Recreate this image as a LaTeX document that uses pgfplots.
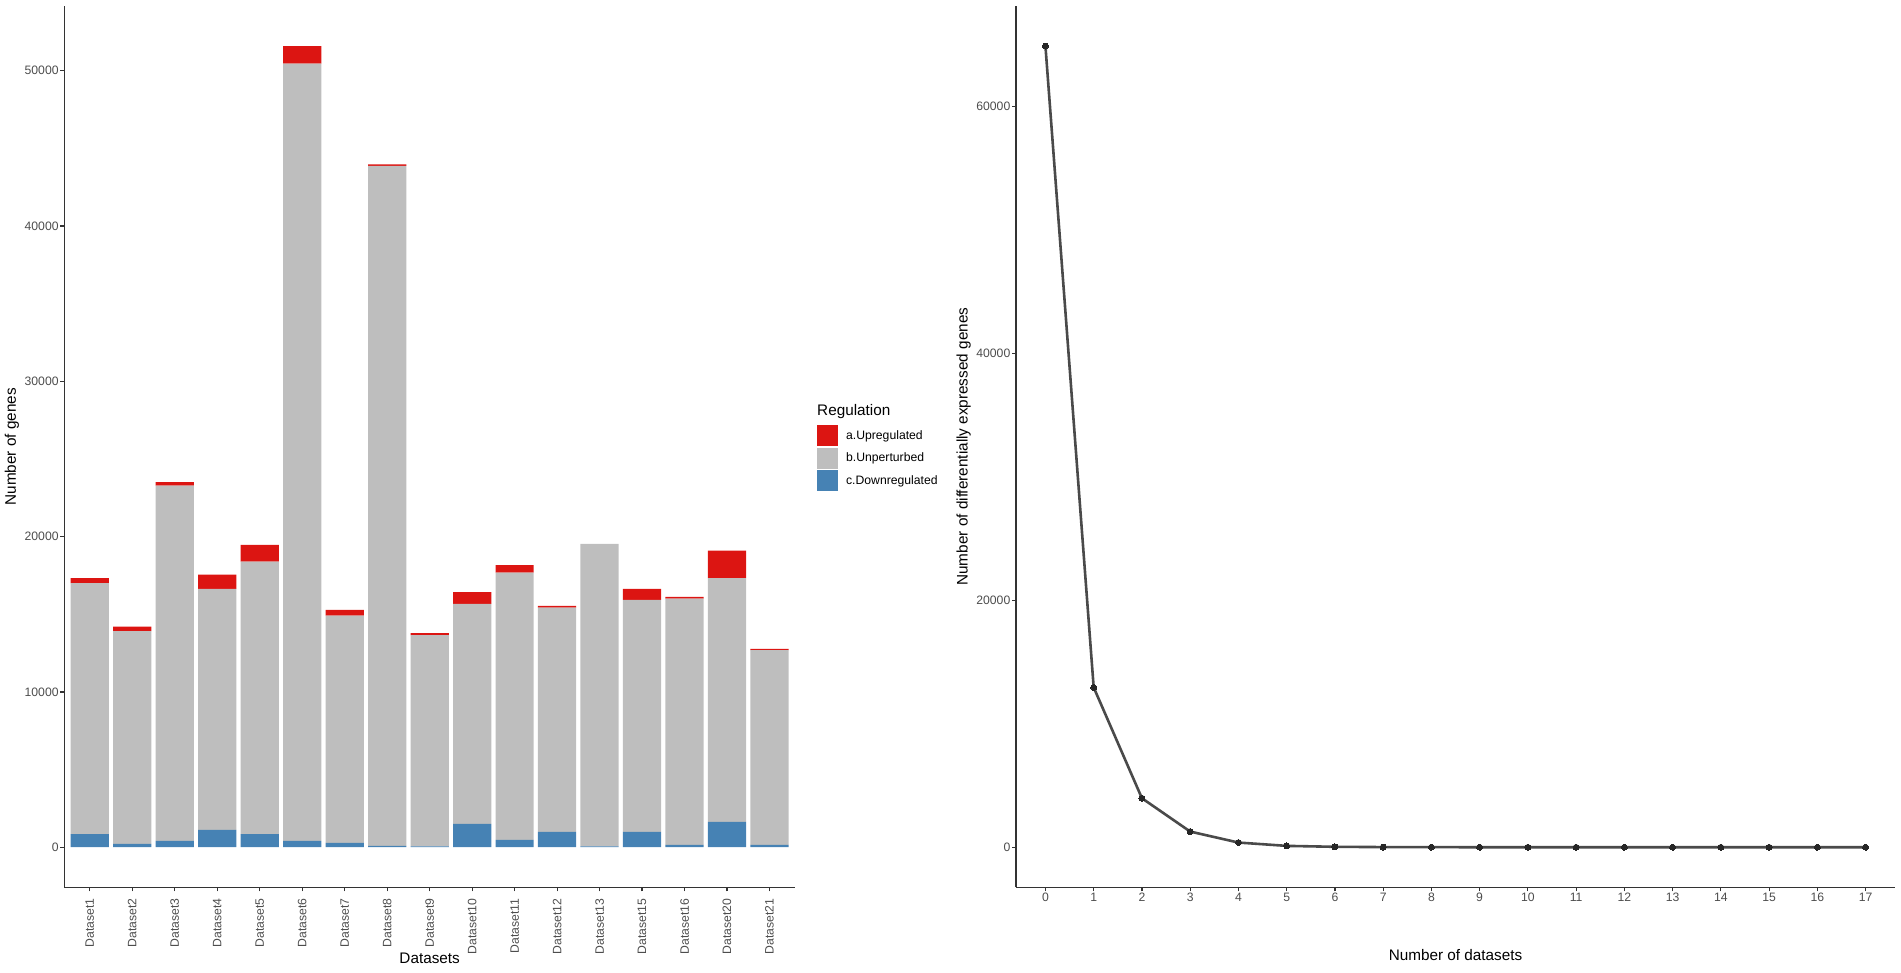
\documentclass[border=0pt]{standalone}
\usepackage{fontspec}
\setmainfont{Liberation Sans}
\usepackage{pgfplots}
\pgfplotsset{compat=1.18}
\definecolor{upred}{HTML}{DC1512}
\definecolor{ungray}{HTML}{BEBEBE}
\definecolor{downblue}{HTML}{4682B4}
\definecolor{txtgray}{HTML}{4D4D4D}
\definecolor{axcol}{HTML}{333333}
\definecolor{linecol}{HTML}{4A4A4A}
\pgfplotsset{
  mylegend/.style={legend image code/.code={\fill[##1,draw=none] (0pt,-10.5pt) rectangle (21pt,10.5pt);}},
  gg/.style={
    scale only axis,
    axis lines=left,
    axis line style={-, line width=1.5pt, color=axcol},
    tick align=outside,
    tick pos=left,
    major tick length=4pt,
    every tick/.style={line width=1.2pt, color=axcol},
    tick label style={font=\fontsize{12.2}{14}\selectfont, text=txtgray, inner sep=1.5pt},
    label style={font=\fontsize{15.3}{18}\selectfont, text=black},
    /pgf/number format/assume math mode=true,
    /pgf/number format/set thousands separator={},
    scaled y ticks=false,
    clip=false,
  }
}
\pgfplotstableread{
x blue gray red
1 837 16165 322
2 213 13697 297
3 406 22881 219
4 1114 15521 921
5 837 17556 1075
6 406 50038 1139
7 277 14638 367
8 84 43792 84
9 60 13593 129
10 1500 14169 753
11 470 17214 477
12 985 14445 110
13 60 19472 0
14 985 14942 708
15 148 15862 109
16 1629 15695 1777
17 148 12539 83
}\bardata
\pgfplotstableread{
x y
0 64900
1 12950
2 3970
3 1270
4 380
5 110
6 35
7 12
8 5
9 2
10 1
11 0
12 0
13 0
14 0
15 0
16 0
17 0
}\linedata
\begin{document}
\begin{tikzpicture}
\path[use as bounding box] (0pt,0pt) rectangle (1901pt,972pt);
\begin{axis}[gg,
  at={(64.3pt,84.7pt)}, anchor=south west,
  width=730.7pt, height=881.3pt,
  ybar stacked, bar width=0.9,
  xmin=0.4, xmax=17.6, ymin=-2579, ymax=54162,
  xtick={1,...,17},
  xticklabels={Dataset1,Dataset2,Dataset3,Dataset4,Dataset5,Dataset6,Dataset7,Dataset8,Dataset9,Dataset10,Dataset11,Dataset12,Dataset13,Dataset15,Dataset16,Dataset20,Dataset21},
  x tick label style={rotate=90, anchor=east, inner xsep=7pt},
  ytick={0,10000,20000,30000,40000,50000},
  xlabel={Datasets}, ylabel={Number of genes},
  xlabel style={at={(axis description cs:0.5,-0.0802)}, anchor=center},
  ylabel style={at={(axis description cs:-0.0716,0.5)}, anchor=center, rotate=0},
  reverse legend,
  legend style={at={(1.030,0.5246)}, anchor=north west, draw=none, fill=none,
    inner sep=0pt, row sep=1.6pt, font=\fontsize{12.2}{14}\selectfont,
    cells={anchor=west}},
]
\addplot[fill=downblue, draw=none, mylegend] table[x=x,y=blue]{\bardata};
\addplot[fill=ungray, draw=none, mylegend] table[x=x,y=gray]{\bardata};
\addplot[fill=upred, draw=none, mylegend] table[x=x,y=red]{\bardata};
\legend{\hspace*{6pt}c.Downregulated,\hspace*{6pt}b.Unperturbed,\hspace*{6pt}a.Upregulated}
\end{axis}
\node[anchor=west, font=\fontsize{15.3}{18}\selectfont, inner sep=0pt] at (817pt,560pt) {Regulation};
\begin{axis}[gg,
  at={(1016pt,84.7pt)}, anchor=south west,
  width=879pt, height=881.3pt,
  xmin=-0.61, xmax=17.61, ymin=-3245, ymax=68145,
  xtick={0,...,17},
  ytick={0,20000,40000,60000},
  xlabel={Number of datasets}, ylabel={Number of differentially expressed genes},
  xlabel style={at={(axis description cs:0.5,-0.0768)}, anchor=center},
  ylabel style={at={(axis description cs:-0.0596,0.5)}, anchor=center, rotate=0},
]
\addplot[color=linecol, line width=2.6pt, mark=*, mark size=3pt,
  mark options={fill=black!85, draw=black!85, line width=0pt}] table[x=x,y=y]{\linedata};
\end{axis}
\end{tikzpicture}
\end{document}
